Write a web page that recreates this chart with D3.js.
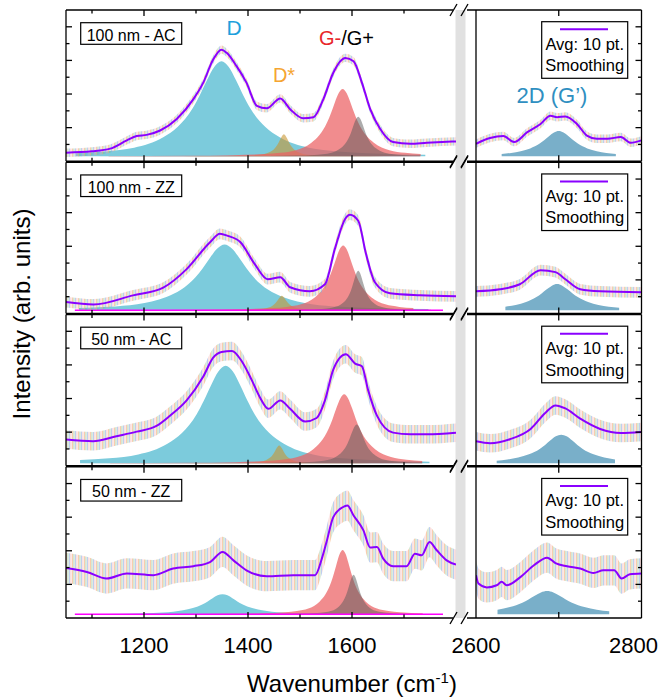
<!DOCTYPE html>
<html>
<head>
<meta charset="utf-8">
<script src="https://cdn.jsdelivr.net/npm/d3@7"></script>
<style>
  body { margin: 0; background: #fff; }
  svg text { font-family: "Liberation Sans", Arial, sans-serif; }
</style>
</head>
<body>
<div id="chart"></div>
<script>
// panel labels
const panelNames = ["100 nm - AC", "100 nm - ZZ", "50 nm - AC", "50 nm - ZZ"];

// 10 pt smoothed spectra, [wavenumber, intensity], 1050-1800 cm-1
const smoothLeft = [
  [[1050,0.51],[1100,0.59],[1135,0.75],[1167,1.24],[1186,1.5],[1205,1.57],[1231,1.83],[1263,2.52],[1295,3.7],[1314,4.68],[1333,6.05],[1349,6.64],[1359,6.45],[1378,5.66],[1397,4.68],[1417,3.3],[1436,3.15],[1462,3.74],[1481,3.1],[1506,2.56],[1526,2.62],[1545,3.7],[1564,5.27],[1587,6.15],[1603,5.95],[1619,4.68],[1635,3.1],[1654,1.93],[1679,1.14],[1712,1.04],[1744,1.1],[1800,1.18]],
  [[1050,0.68],[1103,0.54],[1179,1.08],[1237,1.54],[1282,2.64],[1327,4.24],[1346,4.74],[1361,4.62],[1385,4.26],[1413,2.94],[1438,2.04],[1462,2.16],[1481,1.56],[1519,1.32],[1548,1.74],[1567,3.84],[1587,5.64],[1596,5.88],[1612,5.52],[1627,3.54],[1644,1.86],[1673,1.2],[1731,1.08],[1800,1.02]],
  [[1050,1.56],[1102,1.46],[1147,1.76],[1186,2.03],[1224,2.37],[1250,2.98],[1282,3.89],[1314,5.31],[1333,6.43],[1349,6.77],[1369,6.83],[1388,6.22],[1407,5.11],[1423,4.06],[1439,3.39],[1462,3.89],[1481,3.39],[1510,2.63],[1532,2.84],[1548,3.89],[1564,5.72],[1588,6.63],[1606,6.08],[1619,5.92],[1631,4.5],[1648,2.98],[1679,1.97],[1712,1.87],[1744,1.87],[1800,1.97]],
  [[1050,2.98],[1090,2.74],[1128,2.35],[1167,2.65],[1218,2.55],[1256,2.94],[1295,3.08],[1327,3.33],[1351,3.93],[1372,3.43],[1397,2.84],[1436,2.49],[1487,2.55],[1529,2.55],[1542,3.53],[1551,4.52],[1564,6.0],[1582,6.59],[1591,6.69],[1603,6.1],[1622,5.21],[1635,4.19],[1648,4.22],[1660,3.53],[1679,3.08],[1705,3.08],[1721,3.83],[1734,3.73],[1749,4.52],[1763,4.03],[1782,3.43],[1800,3.18]]
];

// 10 pt smoothed spectra, 2600-2800 cm-1
const smoothRight = [
  [[2600,1.04],[2617,1.38],[2633,1.5],[2646,1.14],[2662,1.73],[2678,2.22],[2690,2.71],[2698,2.62],[2708,2.67],[2722,2.22],[2734,1.53],[2746,1.34],[2759,1.34],[2775,1.44],[2787,1.1],[2800,1.24]],
  [[2600,1.32],[2629,1.44],[2653,1.74],[2678,2.58],[2696,2.46],[2708,2.04],[2726,1.44],[2750,1.32],[2800,1.26]],
  [[2600,1.46],[2617,1.34],[2641,1.58],[2666,2.19],[2684,3.16],[2696,3.59],[2708,3.41],[2726,2.8],[2750,2.19],[2775,1.95],[2800,2.01]],
  [[2600,2.55],[2603,2.05],[2613,1.82],[2625,1.95],[2631,2.15],[2637,1.95],[2654,2.45],[2670,3.14],[2686,3.59],[2696,3.27],[2710,3.08],[2726,2.94],[2742,2.68],[2754,2.84],[2767,2.84],[2776,2.35],[2786,2.6],[2800,2.65]]
];

// spread of the raw (unsmoothed) spectra around the smoothed line
const noiseAmp = [0.25, 0.32, 0.55, 0.9];

// fitted peaks: [centre, height, half width]
const peakD     = [[1349,5.65,56],[1355,3.9,56],[1357,5.8,56],[1351,1.2,38]];
const peakDstar = [[1469,1.3,13],[1465,0.85,12],[1460,1.05,12],[1465,0,12]];
const peakGm    = [[1582,4.0,30],[1583,3.85,27],[1585,4.1,30],[1582,3.83,22]];
const peakGp    = [[1612,2.35,17],[1612,2.35,14],[1609,2.3,18],[1603,2.35,14]];
const peak2D    = [[2700,1.5,23],[2698,1.55,25],[2703,1.7,26],[2686,1.38,30]];
const baseLevel = [0.3, 0.2, 0.15, 0.22];
const showBaseline = [false, true, false, true];

// peak line shape: [offset in half widths, fraction of height]
const peakProfile = [[0,1],[0.25,0.94],[0.5,0.8],[0.75,0.64],[1,0.5],[1.5,0.31],[2,0.2],[2.5,0.13],[3,0.09],[4,0.05],[5,0.032],[7,0.016],[10,0.007],[15,0.003],[30,0]];

const fitRangeL = [1065, 1770];
const fitRangeR = [2625, 2775];

const xTicksL = [1100, 1200, 1300, 1400, 1500, 1600, 1700];
const xTicksR = [2700];
const xLabelsL = [1200, 1400, 1600];
const xLabelsR = [2600, 2800];
const yTicks = [1, 2, 3, 4, 5, 6, 7, 8];

const noiseColors = ["#f3a367", "#73ad73", "#85a6e4", "#ef9a9a"];

const width = 659, height = 700;
const svg = d3.select("#chart").append("svg")
  .attr("width", width)
  .attr("height", height);
const defs = svg.append("defs");

// thin stripes standing in for the overlaid raw spectra
const pat = defs.append("pattern")
  .attr("id", "noise")
  .attr("patternUnits", "userSpaceOnUse")
  .attr("width", 6).attr("height", 8);
noiseColors.forEach((c, i) => {
  pat.append("rect")
    .attr("x", i * 1.5).attr("y", 0)
    .attr("width", 0.9).attr("height", 8)
    .attr("fill", c);
});

const xL = d3.scaleLinear().domain([1050, 1800]).range([66, 456]);
const xR = d3.scaleLinear().domain([2600, 2800]).range([476, 641.5]);

const top0 = 10, bottom0 = 618, gap = 1;
const ph = (bottom0 - top0 - 3 * gap) / 4;

// grey gap of the broken axis
svg.append("rect")
  .attr("x", 455.5).attr("y", top0)
  .attr("width", 10).attr("height", bottom0 - top0)
  .attr("fill", "#e1e1e1");

function peakPoints(p, base, range) {
  const [c, h, w] = p;
  const pts = [];
  for (let k = peakProfile.length - 1; k > 0; k--) {
    pts.push([c - peakProfile[k][0] * w, base + h * peakProfile[k][1]]);
  }
  peakProfile.forEach(([o, f]) => pts.push([c + o * w, base + h * f]));
  return pts.filter(d => d[0] >= range[0] && d[0] <= range[1]);
}

function drawSpectrum(g, x, y, data, amp) {
  const band = d3.area()
    .x(d => x(d[0]))
    .y0(d => y(d[1] - amp))
    .y1(d => y(d[1] + amp))
    .curve(d3.curveMonotoneX);
  g.append("path")
    .attr("d", band(data))
    .attr("fill", "url(#noise)")
    .attr("opacity", 0.6);

  const line = d3.line()
    .x(d => x(d[0]))
    .y(d => y(d[1]))
    .curve(d3.curveMonotoneX);
  g.append("path")
    .attr("d", line(data))
    .attr("fill", "none")
    .attr("stroke", "#8a00ff")
    .attr("stroke-width", 2);
}

function drawPeak(g, x, y, p, base, range, color) {
  if (p[1] <= 0) return;
  const area = d3.area()
    .x(d => x(d[0]))
    .y0(y(base))
    .y1(d => y(d[1]))
    .curve(d3.curveMonotoneX);
  g.append("path")
    .attr("d", area(peakPoints(p, base, range)))
    .attr("fill", color);
}

panelNames.forEach((name, i) => {
  const t = top0 + i * (ph + gap), b = t + ph;
  const y = d3.scaleLinear().domain([0, 9]).range([b, t]);
  const base = baseLevel[i];

  defs.append("clipPath").attr("id", `cl${i}`)
    .append("rect").attr("x", 66).attr("y", t).attr("width", 390).attr("height", ph);
  defs.append("clipPath").attr("id", `cr${i}`)
    .append("rect").attr("x", 476).attr("y", t).attr("width", 165.5).attr("height", ph);

  const gl = svg.append("g").attr("clip-path", `url(#cl${i})`);
  const gr = svg.append("g").attr("clip-path", `url(#cr${i})`);

  // fitted peaks
  drawPeak(gl, xL, y, peakD[i], base, fitRangeL, "#7ccbdc");
  drawPeak(gl, xL, y, peakDstar[i], base, fitRangeL, "rgba(200,150,50,0.6)");
  drawPeak(gl, xL, y, peakGm[i], base, fitRangeL, "rgba(236,96,98,0.72)");
  drawPeak(gl, xL, y, peakGp[i], base, fitRangeL, "rgba(90,90,90,0.5)");
  drawPeak(gr, xR, y, peak2D[i], base, fitRangeR, "#79afc9");

  if (showBaseline[i]) {
    gl.append("line")
      .attr("x1", xL(1067)).attr("x2", xL(1775))
      .attr("y1", y(base)).attr("y2", y(base))
      .attr("stroke", "#ff00ff").attr("stroke-width", 1.5);
  }

  drawSpectrum(gl, xL, y, smoothLeft[i], noiseAmp[i]);
  drawSpectrum(gr, xR, y, smoothRight[i], noiseAmp[i]);

  // frame
  const ax = svg.append("g").attr("stroke", "#000").attr("stroke-width", 1.3).attr("fill", "none");
  ax.append("line").attr("x1", 66).attr("x2", 66).attr("y1", t).attr("y2", b);
  ax.append("line").attr("x1", 476).attr("x2", 476).attr("y1", t).attr("y2", b);
  ax.append("line").attr("x1", 641.5).attr("x2", 641.5).attr("y1", t).attr("y2", b);
  [t, b].forEach(yy => {
    ax.append("line").attr("x1", 66).attr("x2", 453).attr("y1", yy).attr("y2", yy);
    ax.append("line").attr("x1", 467).attr("x2", 641.5).attr("y1", yy).attr("y2", yy);
    // break marks
    [450, 461].forEach(bx => {
      ax.append("line")
        .attr("x1", bx).attr("y1", yy + 6)
        .attr("x2", bx + 7).attr("y2", yy - 6);
    });
  });

  yTicks.forEach(v => {
    const len = v % 2 === 0 ? 6 : 3.5;
    ax.append("line").attr("x1", 66).attr("x2", 66 + len).attr("y1", y(v)).attr("y2", y(v));
    ax.append("line").attr("x1", 641.5).attr("x2", 641.5 - len).attr("y1", y(v)).attr("y2", y(v));
  });
  xTicksL.forEach(v => {
    const len = v % 200 === 0 ? 6 : 3.5;
    ax.append("line").attr("x1", xL(v)).attr("x2", xL(v)).attr("y1", b).attr("y2", b - len);
    ax.append("line").attr("x1", xL(v)).attr("x2", xL(v)).attr("y1", t).attr("y2", t + len);
  });
  xTicksR.forEach(v => {
    ax.append("line").attr("x1", xR(v)).attr("x2", xR(v)).attr("y1", b).attr("y2", b - 6);
    ax.append("line").attr("x1", xR(v)).attr("x2", xR(v)).attr("y1", t).attr("y2", t + 6);
  });

  // sample name box
  svg.append("rect")
    .attr("x", 80.7).attr("y", t + 12.7)
    .attr("width", 101).attr("height", 21.6)
    .attr("fill", "#fff").attr("stroke", "#000").attr("stroke-width", 1.2);
  svg.append("text")
    .attr("x", 131.2).attr("y", t + 30.5)
    .attr("text-anchor", "middle")
    .attr("font-size", 16)
    .text(name);

  // legend box
  svg.append("rect")
    .attr("x", 541.7).attr("y", t + 11.7)
    .attr("width", 86).attr("height", 56.6)
    .attr("fill", "#fff").attr("stroke", "#000").attr("stroke-width", 1.2);
  svg.append("line")
    .attr("x1", 560).attr("x2", 608)
    .attr("y1", t + 19.3).attr("y2", t + 19.3)
    .attr("stroke", "#8a00ff").attr("stroke-width", 2);
  svg.append("text")
    .attr("x", 584.7).attr("y", t + 39.5)
    .attr("text-anchor", "middle").attr("font-size", 16.5)
    .text("Avg: 10 pt.");
  svg.append("text")
    .attr("x", 584.7).attr("y", t + 61)
    .attr("text-anchor", "middle").attr("font-size", 16.5)
    .text("Smoothing");
});

// peak names (top panel)
svg.append("text").attr("x", 234).attr("y", 35).attr("text-anchor", "middle")
  .attr("font-size", 21).attr("fill", "#1ea0dc").text("D");
svg.append("text").attr("x", 284).attr("y", 81.5).attr("text-anchor", "middle")
  .attr("font-size", 20).attr("fill", "#f5a531").text("D*");
const gLab = svg.append("text").attr("x", 319).attr("y", 45).attr("font-size", 20);
gLab.append("tspan").attr("fill", "#e8262a").text("G-");
gLab.append("tspan").attr("fill", "#000").text("/G+");
svg.append("text").attr("x", 552).attr("y", 103).attr("text-anchor", "middle")
  .attr("font-size", 22).attr("fill", "#2f8fc1").text("2D (G\u2019)");

// tick labels
xLabelsL.forEach(v => {
  svg.append("text").attr("x", xL(v)).attr("y", 653)
    .attr("text-anchor", "middle").attr("font-size", 22).text(v);
});
xLabelsR.forEach((v, k) => {
  svg.append("text").attr("x", xR(v) - (k === 1 ? 8 : 0)).attr("y", 653)
    .attr("text-anchor", "middle").attr("font-size", 22).text(v);
});

// axis titles
const xt = svg.append("text").attr("x", 352).attr("y", 692)
  .attr("text-anchor", "middle").attr("font-size", 24);
xt.append("tspan").text("Wavenumber (cm");
xt.append("tspan").attr("dy", -9).attr("font-size", 15).text("-1");
xt.append("tspan").attr("dy", 9).text(")");

svg.append("text")
  .attr("transform", "translate(30,314) rotate(-90)")
  .attr("text-anchor", "middle").attr("font-size", 24)
  .text("Intensity (arb. units)");
</script>
</body>
</html>
